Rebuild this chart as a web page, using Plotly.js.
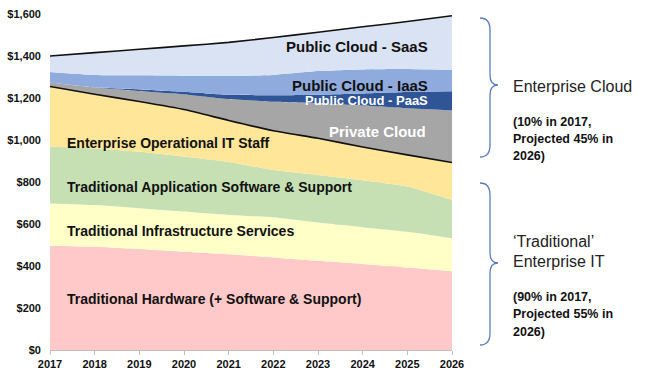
<!DOCTYPE html>
<html>
<head>
<meta charset="utf-8">
<script src="https://cdn.plot.ly/plotly-3.0.1.min.js"></script>
<style>html,body{margin:0;padding:0;background:#fff;}#chart{width:646px;height:375px;}</style>
</head>
<body>
<div id="chart"></div>
<script>
const years = [2017, 2018, 2019, 2020, 2021, 2022, 2023, 2024, 2025, 2026];
const hardware = [497, 492, 481, 468, 456, 441, 425, 410, 393, 375];
const infraServices = [201, 198, 194, 191, 187, 191, 182, 175, 170, 157];
const appSoftware = [270, 270, 269, 262, 252, 225, 226, 223, 215, 182];
const itStaff = [287, 258, 239, 224, 198, 187, 175, 159, 151, 179];
const privateCloud = [19, 32, 50, 72, 102, 138, 167, 197, 222, 248];
const paas = [0, 1, 8, 13, 20, 31, 41, 58, 78, 91];
const iaas = [50, 59, 67, 76, 90, 97, 112, 114, 109, 102];
const saas = [76, 106, 124, 142, 160, 178, 185, 203, 226, 258];
const yTicks = [0, 200, 400, 600, 800, 1000, 1200, 1400, 1600];
const yTickText = ['$0', '$200', '$400', '$600', '$800', '$1,000', '$1,200', '$1,400', '$1,600'];

const FONT = "'Liberation Sans', Arial, sans-serif";
const L = 50, R = 194, T = 14, B = 25, W = 646, H = 375;
const pw = W - L - R, ph = H - T - B;
const px = x => (x - L) / pw;
const py = y => (H - B - y) / ph;

function layer(name, vals, color, line) {
  return {
    x: years, y: vals, name: name, type: 'scatter', mode: 'lines',
    stackgroup: 'one', fill: 'tonexty', fillcolor: color,
    line: line || {width: 0, color: color, shape: 'spline', smoothing: 0.5},
    hoverinfo: 'skip'
  };
}
const blackLine = {width: 1.6, color: '#111', shape: 'spline', smoothing: 0.5};
const traces = [
  layer('Traditional Hardware (+ Software & Support)', hardware, '#FFC9C9'),
  layer('Traditional Infrastructure Services', infraServices, '#FFFFC8'),
  layer('Traditional Application Software & Support', appSoftware, '#C6E0B4'),
  layer('Enterprise Operational IT Staff', itStaff, '#FFE699', blackLine),
  layer('Private Cloud', privateCloud, '#A6A6A6'),
  layer('Public Cloud - PaaS', paas, '#2F5597'),
  layer('Public Cloud - IaaS', iaas, '#8FAADC'),
  layer('Public Cloud - SaaS', saas, '#DAE3F3', blackLine)
];

function brace(yt, ym, yb) {
  const x0 = 480, x1 = 490, x2 = 498;
  const P = (x, y) => px(x).toFixed(5) + ',' + py(y).toFixed(5);
  return 'M ' + P(x0, yt) + ' Q ' + P(x1, yt) + ' ' + P(x1, yt + 12) +
    ' L ' + P(x1, ym - 10) + ' Q ' + P(x1, ym) + ' ' + P(x2, ym) +
    ' Q ' + P(x1, ym) + ' ' + P(x1, ym + 10) +
    ' L ' + P(x1, yb - 12) + ' Q ' + P(x1, yb) + ' ' + P(x0, yb);
}

function ann(text, x, y, anchor, size, color, bold) {
  return {
    text: text, xref: 'paper', yref: 'paper', x: px(x), y: py(y),
    xanchor: anchor, yanchor: 'middle', showarrow: false,
    font: {family: FONT, size: size, color: color, weight: bold ? 'bold' : 'normal'}
  };
}

const annotations = [
  ann('Public Cloud - SaaS', 430, 46.5, 'right', 15, '#111', true),
  ann('Public Cloud - IaaS', 430, 85, 'right', 15, '#111', true),
  ann('Public Cloud - PaaS', 430, 100.5, 'right', 13, '#fff', true),
  ann('Private Cloud', 428, 131.5, 'right', 15, '#fff', true),
  ann('Enterprise Operational IT Staff', 65, 142.5, 'left', 14, '#111', true),
  ann('Traditional Application Software & Support', 65, 186.5, 'left', 14, '#111', true),
  ann('Traditional Infrastructure Services', 65, 231, 'left', 14, '#111', true),
  ann('Traditional Hardware (+ Software & Support)', 65, 299, 'left', 14, '#111', true),
  ann('Enterprise Cloud', 511, 86, 'left', 16, '#222', false),
  ann('(10% in 2017,', 511, 122, 'left', 12.5, '#111', true),
  ann('Projected 45% in', 511, 139, 'left', 12.5, '#111', true),
  ann('2026)', 511, 156, 'left', 12.5, '#111', true),
  ann('\u2018Traditional\u2019', 511, 241, 'left', 16, '#222', false),
  ann('Enterprise IT', 511, 261, 'left', 16, '#222', false),
  ann('(90% in 2017,', 511, 297, 'left', 12.5, '#111', true),
  ann('Projected 55% in', 511, 314, 'left', 12.5, '#111', true),
  ann('2026)', 511, 331.5, 'left', 12.5, '#111', true)
];

const layout = {
  width: W, height: H,
  margin: {l: L, r: R, t: T, b: B, pad: 0},
  paper_bgcolor: '#fff', plot_bgcolor: '#fff',
  showlegend: false,
  font: {family: FONT, color: '#111'},
  xaxis: {
    range: [2017, 2026], tickvals: years, ticktext: years.map(String),
    showgrid: false, zeroline: false,
    showline: true, linecolor: '#BFBFBF', linewidth: 1,
    ticks: 'outside', ticklen: 4, tickcolor: '#BFBFBF',
    tickfont: {family: FONT, size: 11, color: '#111', weight: 'bold'}
  },
  yaxis: {
    range: [0, 1600], tickmode: 'array', tickvals: yTicks, ticktext: yTickText,
    showgrid: true, gridcolor: '#D9D9D9', gridwidth: 1,
    zeroline: false, showline: false, ticks: '',
    ticklabelstandoff: 8,
    tickfont: {family: FONT, size: 11, color: '#111', weight: 'bold'}
  },
  shapes: [
    {type: 'path', xref: 'paper', yref: 'paper', path: brace(18, 85, 157), line: {color: '#5B7CC0', width: 1.3}},
    {type: 'path', xref: 'paper', yref: 'paper', path: brace(183, 263, 345), line: {color: '#5B7CC0', width: 1.3}}
  ],
  annotations: annotations
};

Plotly.newPlot('chart', traces, layout, {displayModeBar: false, staticPlot: true});
</script>
</body>
</html>
